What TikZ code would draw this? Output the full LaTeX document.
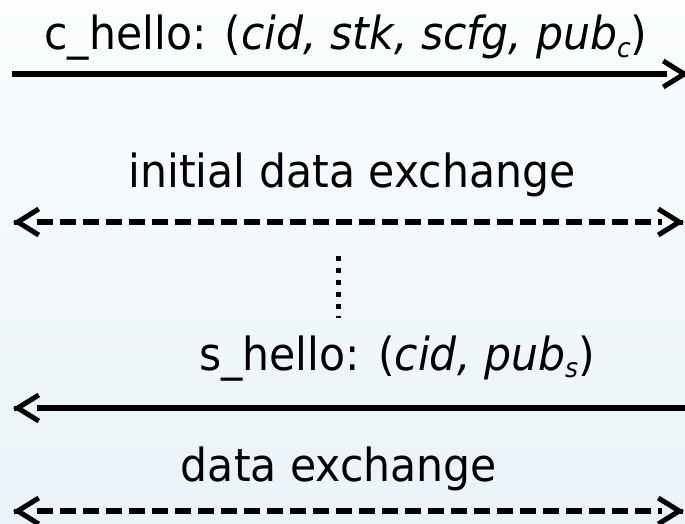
\documentclass[tikz,border=0pt]{standalone}
\usepackage{fontspec}
\usepackage{graphicx}
\setmainfont{DejaVu Sans}
\usetikzlibrary{arrows.meta}
\definecolor{bgtop}{RGB}{251,253,254}
\definecolor{bgbot}{RGB}{234,243,248}
\newcommand{\tallbox}[1]{\scalebox{1}[1.07]{#1}}
\newcommand{\lowsub}[1]{\raisebox{-7pt}{\fontsize{25}{25}\selectfont\itshape #1}}
\begin{document}
\begin{tikzpicture}[x=1pt,y=-1pt,
  lbl/.style={font=\fontsize{42.6}{50}\selectfont, inner sep=0pt, anchor=base},
  shaft/.style={line width=6pt},
  dashshaft/.style={line width=6pt, dash pattern=on 16pt off 7pt},
  dotshaft/.style={line width=5pt, dash pattern=on 5pt off 7pt},
  chev/.style={line width=5pt, -{Straight Barb[length=21pt,width=26pt,line width=5pt]}}
]
\useasboundingbox (0,0) rectangle (685,524);
\shade[top color=bgtop, bottom color=bgbot] (0,0) rectangle (685,524);

% labels
\node[lbl] (t1) at (346,50) {\tallbox{c\_hello: (\textit{cid, stk, scfg, pub}\lowsub{c})}};
\node[lbl] (t2) at (352,187) {\tallbox{initial data exchange}};
\node[lbl] (t3) at (397,370) {\tallbox{s\_hello: (\textit{cid, pub}\lowsub{s})}};
\node[lbl] (t4) at (339,481) {\tallbox{data exchange}};

% end points
\coordinate (a1L) at (12,74);  \coordinate (a1R) at (689,74);
\coordinate (a2L) at (13,222); \coordinate (a2R) at (684,222);
\coordinate (a3L) at (13,408); \coordinate (a3R) at (690,408);
\coordinate (a4L) at (13,511); \coordinate (a4R) at (684,511);
\coordinate (d1) at (338,256); \coordinate (d2) at (338,318);

% c_hello
\draw[shaft, shorten >=22pt] (a1L) -- (a1R);
\draw[chev] (a1R) ++(-1,0) -- (a1R);
% initial data exchange
\draw[dashshaft, shorten >=22pt, shorten <=24pt] (a2L) -- (a2R);
\draw[chev] (a2R) ++(-1,0) -- (a2R);
\draw[chev] (a2L) ++(1,0) -- (a2L);
% dots
\draw[dotshaft] (d1) -- (d2);
% s_hello
\draw[shaft, shorten <=24pt] (a3L) -- (a3R);
\draw[chev] (a3L) ++(1,0) -- (a3L);
% data exchange
\draw[dashshaft, shorten >=22pt, shorten <=24pt] (a4L) -- (a4R);
\draw[chev] (a4R) ++(-1,0) -- (a4R);
\draw[chev] (a4L) ++(1,0) -- (a4L);
\end{tikzpicture}
\end{document}
